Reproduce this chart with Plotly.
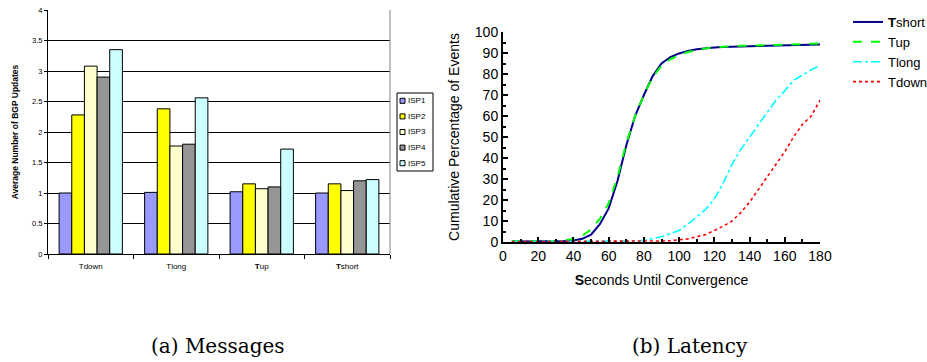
import plotly.graph_objects as go

# ---------------- data: (a) Messages ----------------
categories = ["Tdown", "Tlong", "<b>T</b>up", "<b>T</b>short"]
isp_names = ["ISP1", "ISP2", "ISP3", "ISP4", "ISP5"]
isp1 = [1.00, 1.01, 1.02, 1.00]
isp2 = [2.28, 2.38, 1.15, 1.15]
isp3 = [3.08, 1.77, 1.07, 1.04]
isp4 = [2.90, 1.80, 1.10, 1.20]
isp5 = [3.35, 2.56, 1.72, 1.22]
bar_y_ticks = [0, 0.5, 1, 1.5, 2, 2.5, 3, 3.5, 4]

# ---------------- data: (b) Latency ----------------
seconds = [5, 10, 15, 20, 25, 30, 35, 40, 45, 50, 55, 60, 65, 70, 75, 80, 85, 90,
           95, 100, 105, 110, 115, 120, 125, 130, 135, 140, 145, 150, 155, 160,
           165, 170, 175, 180]
t_short = [0.2, 0.2, 0.3, 0.3, 0.3, 0.4, 0.5, 0.7, 1.5, 3.5, 8.5, 16, 29, 46, 60, 70,
           79, 85, 88, 89.8, 91, 91.8, 92.3, 92.6, 92.8, 93.0, 93.1, 93.2, 93.3,
           93.4, 93.5, 93.6, 93.7, 93.8, 93.9, 94.0]
t_up = [0.3, 0.3, 0.3, 0.4, 0.4, 0.5, 0.8, 1.5, 3, 6, 11, 18.5, 31, 47, 60, 70, 78.5,
        84, 87, 89, 90.5, 91.5, 92.2, 92.7, 93.0, 93.2, 93.4, 93.5, 93.6, 93.8,
        93.9, 94.0, 94.2, 94.3, 94.4, 94.5]
t_long = [0.2, 0.2, 0.2, 0.2, 0.2, 0.2, 0.2, 0.2, 0.2, 0.3, 0.3, 0.3, 0.3, 0.4, 0.5,
          0.8, 1.5, 2.5, 4, 5.5, 8.5, 12, 15.5, 20.5, 28, 37, 44, 50, 56, 62, 67.5,
          72, 77, 79.5, 82, 84]
t_down = [0.2, 0.2, 0.2, 0.2, 0.2, 0.2, 0.2, 0.2, 0.2, 0.2, 0.2, 0.3, 0.3, 0.3, 0.3,
          0.4, 0.4, 0.5, 0.6, 1, 1.5, 2.5, 3.5, 5.5, 7.5, 10, 14, 19, 25, 31, 37, 43,
          50, 56, 60, 67.5]
line_names = ["<b>T</b>short", "Tup", "Tlong", "Tdown"]

W, H = 927, 362
def px(x):
    return x / W
def py(y):
    return 1 - y / H

fig = go.Figure()

bar_colors = ["#9999FF", "#FFFF00", "#FFFFCC", "#969696", "#CCFFFF"]
for name, vals, col in zip(isp_names, [isp1, isp2, isp3, isp4, isp5], bar_colors):
    fig.add_trace(go.Bar(x=categories, y=vals, name=name, marker_color=col,
                         marker_line_color="black", marker_line_width=1,
                         xaxis="x", yaxis="y", showlegend=False))

line_styles = [("#00008B", "solid", 2), ("#00FF00", "dash", 2),
               ("#00FFFF", "dashdot", 1.6), ("#FF0000", "dot", 1.6)]
for name, vals, (col, dash, w) in zip(line_names, [t_short, t_up, t_long, t_down], line_styles):
    fig.add_trace(go.Scatter(x=seconds, y=vals, name=name, mode="lines",
                             line=dict(color=col, dash=dash, width=w),
                             xaxis="x2", yaxis="y2", legend="legend2"))

SANS = "Liberation Sans, Arial, sans-serif"

fig.update_layout(
    width=W, height=H,
    margin=dict(l=0, r=0, t=0, b=0, autoexpand=False),
    paper_bgcolor="white", plot_bgcolor="white",
    font=dict(family=SANS, color="black"),
    barmode="group", bargap=0.26, bargroupgap=0,
    xaxis=dict(domain=[px(48), px(390)], anchor="y", type="category",
               automargin=False, ticklabelstandoff=4,
               showline=True, linecolor="black", linewidth=1,
               ticks="outside", tickson="boundaries", ticklen=4, tickcolor="black",
               tickfont=dict(size=8, family=SANS), showgrid=False),
    yaxis=dict(domain=[py(254), py(10)], anchor="x", range=[0, 4],
               automargin=False,
               tickvals=bar_y_ticks, ticks="outside", ticklen=3, tickcolor="black",
               showline=True, linecolor="black", linewidth=1,
               showgrid=True, gridcolor="black", gridwidth=1,
               zeroline=False, tickfont=dict(size=7.5, family=SANS),
               title=dict(text="<b>Average Number of BGP Updates</b>",
                          font=dict(size=8.5, family=SANS), standoff=12)),
    xaxis2=dict(domain=[px(503), px(820)], anchor="y2", range=[0, 180],
                automargin=False,
                dtick=20, tick0=0, ticks="inside", ticklen=5, tickwidth=2,
                tickcolor="black", showline=True, linecolor="black", linewidth=2,
                showgrid=False, zeroline=False,
                minor=dict(dtick=10, ticks="inside", ticklen=3, tickwidth=2,
                           tickcolor="black"),
                tickfont=dict(size=14, family=SANS),
                title=dict(text="<b>S</b>econds Until Convergence",
                           font=dict(size=14, family=SANS), standoff=12)),
    yaxis2=dict(domain=[py(242), py(32)], anchor="x2", range=[0, 100],
                automargin=False,
                dtick=10, ticks="inside", ticklen=5, tickwidth=2,
                tickcolor="black", showline=True, linecolor="black", linewidth=2,
                showgrid=False, zeroline=False,
                minor=dict(dtick=5, ticks="inside", ticklen=3, tickwidth=2,
                           tickcolor="black"),
                tickfont=dict(size=14, family=SANS),
                title=dict(text="Cumulative Percentage of Events",
                           font=dict(size=14, family=SANS), standoff=12)),
    legend2=dict(x=px(848), y=py(7), xanchor="left", yanchor="top",
                 bgcolor="rgba(0,0,0,0)", borderwidth=0,
                 font=dict(size=13, family=SANS), tracegroupgap=0,
                 itemwidth=30),
    showlegend=True,
)

# gray right border of the bar plot area
fig.add_shape(type="line", xref="x domain", yref="y domain", x0=1, x1=1, y0=0, y1=1,
              line=dict(color="#808080", width=1))

# bar-chart legend box (small squares with labels)
lx0, ly0, lx1, ly1 = 397, 93, 433, 171
fig.add_shape(type="rect", xref="paper", yref="paper",
              x0=px(lx0), x1=px(lx1), y0=py(ly1), y1=py(ly0),
              line=dict(color="black", width=1), fillcolor="white")
step = (ly1 - ly0) / 5
for i, (name, col) in enumerate(zip(isp_names, bar_colors)):
    cy = ly0 + step * (i + 0.5)
    fig.add_shape(type="rect", xref="paper", yref="paper",
                  x0=px(lx0 + 3), x1=px(lx0 + 8), y0=py(cy + 2.5), y1=py(cy - 2.5),
                  line=dict(color="black", width=1), fillcolor=col)
    fig.add_annotation(x=px(lx0 + 9), y=py(cy), xref="paper", yref="paper",
                       text=name, showarrow=False, xanchor="left", yanchor="middle",
                       font=dict(size=8, family=SANS))

# sub-figure captions
SERIF = "DejaVu Serif, serif"
fig.add_annotation(x=px(218), y=py(346), xref="paper", yref="paper",
                   text="(a) Messages", showarrow=False, xanchor="center",
                   yanchor="middle", font=dict(size=20, family=SERIF))
fig.add_annotation(x=px(690), y=py(346), xref="paper", yref="paper",
                   text="(b) Latency", showarrow=False, xanchor="center",
                   yanchor="middle", font=dict(size=20, family=SERIF))

fig.write_html("out.html",
               config={"displayModeBar": False},
               post_script="document.body.style.margin='0';"
                           "document.body.style.overflow='hidden';")
